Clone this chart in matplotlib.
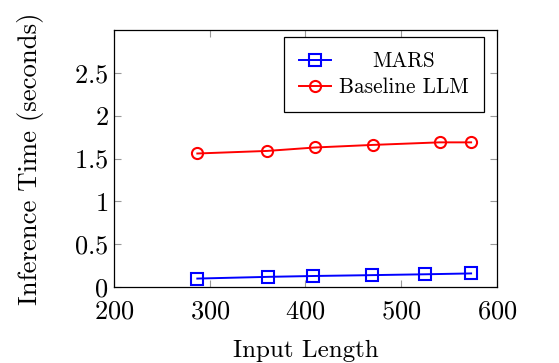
import matplotlib.pyplot as plt

# --- Data ---
mars_x = [287, 361, 408, 469, 525, 573]
mars_y = [0.10, 0.12, 0.13, 0.14, 0.15, 0.16]
base_x = [287, 360, 410, 470, 540, 573]
base_y = [1.56, 1.59, 1.63, 1.66, 1.69, 1.69]
x_ticks = [200, 300, 400, 500, 600]
y_ticks = [0, 0.5, 1, 1.5, 2, 2.5]
y_tick_labels = ["0", "0.5", "1", "1.5", "2", "2.5"]

plt.rcParams["font.family"] = ["cmr10", "DejaVu Serif"]
plt.rcParams["mathtext.fontset"] = "cm"
plt.rcParams["axes.formatter.use_mathtext"] = True

fig = plt.figure(figsize=(5.59, 3.63), dpi=100)
ax = fig.add_axes([0.204, 0.209, 0.685, 0.708])

ax.plot(mars_x, mars_y, color="blue", marker="s", markersize=8,
        markerfacecolor="none", markeredgewidth=1.5, linewidth=1.4, label="MARS")
ax.plot(base_x, base_y, color="red", marker="o", markersize=8,
        markerfacecolor="none", markeredgewidth=1.5, linewidth=1.4, label="Baseline LLM")

ax.set_xlim(200, 600)
ax.set_ylim(0, 3)
ax.set_xticks(x_ticks)
ax.set_xticklabels([f"${t}$" for t in x_ticks])
ax.set_yticks(y_ticks)
ax.set_yticklabels([f"${t}$" for t in y_tick_labels])
ax.tick_params(axis="both", direction="in", top=True, right=True, length=5, width=0.8,
               color="#999999", labelsize=19)
ax.tick_params(axis="y", pad=4)
ax.tick_params(axis="x", pad=9)
for s in ax.spines.values():
    s.set_linewidth(0.9)

ax.set_xlabel("Input Length", fontsize=18, labelpad=12)
ax.set_ylabel("Inference Time (seconds)", fontsize=19.2, labelpad=22)

leg = ax.legend(loc="upper right", bbox_to_anchor=(0.966, 0.973), fontsize=15.3,
                fancybox=False, framealpha=1, edgecolor="black", borderpad=0.7,
                handlelength=1.5, handletextpad=0.4, labelspacing=0.3,
                borderaxespad=0)
leg.get_frame().set_linewidth(0.9)

# pgfplots centres legend text; shift the shorter entry to the middle
fig.canvas.draw()
texts = leg.get_texts()
widths = [t.get_window_extent().width for t in texts]
wmax = max(widths)
for t, w in zip(texts, widths):
    t.set_position(((wmax - w) / 2, 0))

fig.savefig("out.png", dpi=100)
